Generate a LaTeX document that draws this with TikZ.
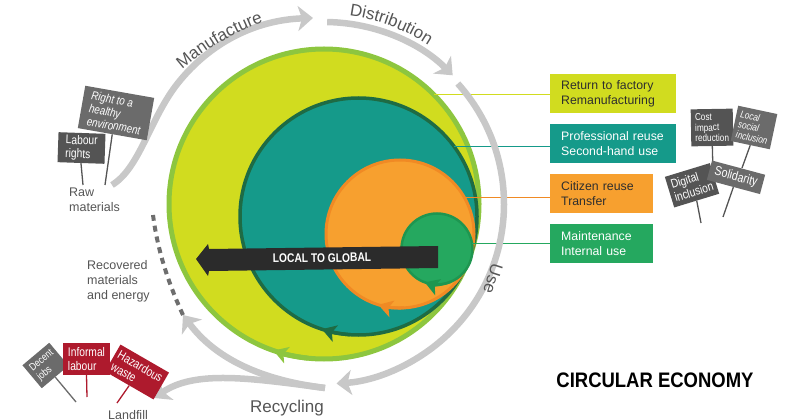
\documentclass[tikz,border=0pt]{standalone}
\usepackage{fontspec}
\setmainfont{Liberation Sans}
\newfontfamily\condfont[FakeStretch=0.82]{Liberation Sans}
\newfontfamily\titlefont[FakeStretch=0.88]{Liberation Sans}
\usetikzlibrary{arrows.meta,decorations.text,positioning}

\definecolor{cyel}{HTML}{D1DC1F}
\definecolor{clgreen}{HTML}{8DC63F}
\definecolor{cteal}{HTML}{159A8A}
\definecolor{cdgreen}{HTML}{1E6B44}
\definecolor{corange}{HTML}{F7A02F}
\definecolor{cdorange}{HTML}{F08A24}
\definecolor{cgreen}{HTML}{25A85F}
\definecolor{cmgreen}{HTML}{1E9650}
\definecolor{flowgray}{HTML}{C8C8C8}
\definecolor{txtgray}{HTML}{555555}
\definecolor{txtdark}{HTML}{2E2E2E}
\definecolor{signdark}{HTML}{545454}
\definecolor{signlight}{HTML}{6B6B6B}
\definecolor{signred}{HTML}{AE1A2D}
\definecolor{bandblack}{HTML}{2B2B2B}
\newcommand\flowfont{\color{txtgray}\fontsize{17}{17}\selectfont}

\begin{document}
\begin{tikzpicture}[x=1pt,y=1pt,
    ring/.style={circle,inner sep=0pt,outer sep=0pt},
    flow/.style={draw=flowgray,line width=6.5pt,-{Stealth[length=15pt,width=25pt,inset=4pt]}},
    flowtext/.style={text=txtgray,font=\fontsize{17}{17}\selectfont},
    note/.style={text=txtgray,font=\fontsize{12.5}{15}\selectfont,align=left,inner sep=0pt,anchor=north west},
    legend/.style={anchor=north west,inner xsep=11pt,inner ysep=0pt,minimum height=39pt,align=left,font=\fontsize{12.3}{15}\selectfont},
    sign/.style={inner sep=0pt,text=white,align=left,font=\condfont\fontsize{12.5}{13.5}\selectfont},
    smallsign/.style={sign,font=\condfont\fontsize{10}{10.5}\selectfont},
    stick/.style={line width=1.3pt},
    ringtip/.style={-{Stealth[length=14pt,width=17pt,inset=3.5pt]}}]
\useasboundingbox (0,0) rectangle (800,418);

\node[ring,minimum size=310pt,fill=cyel,draw=clgreen,line width=5pt] (outer) at (324,214) {};
\node[ring,minimum size=237pt,fill=cteal,draw=cdgreen,line width=3.5pt] (teal) at (358.5,201.5) {};
\node[ring,minimum size=148pt,fill=corange,draw=cdorange,line width=3pt] (orange) at (400,184) {};
\node[ring,minimum size=71pt,fill=cgreen,draw=cmgreen,line width=2.5pt] (green) at (437,169) {};

\draw[ringtip,clgreen,line width=5pt] ([shift={(264:155pt)}]outer.center) arc[start angle=264,end angle=251,radius=155pt];
\draw[ringtip,cdgreen,line width=3.5pt] ([shift={(266:118.5pt)}]teal.center) arc[start angle=266,end angle=252,radius=118.5pt];
\draw[ringtip,cdorange,line width=3pt] ([shift={(273:74pt)}]orange.center) arc[start angle=273,end angle=253,radius=74pt];
\draw[ringtip,cmgreen,line width=2.5pt] ([shift={(292:35.5pt)}]green.center) arc[start angle=292,end angle=250,radius=35.5pt];

\fill[bandblack] (438,172) -- (438,150) -- (209,147) -- (208,142) -- (196,159) -- (208,174) -- (209,169) -- cycle;
\node[font=\condfont\bfseries\fontsize{12.5}{12.5}\selectfont,text=white,rotate=0.7] (l2g) at (322,160) {LOCAL TO GLOBAL};

\node[legend,fill=cyel,text=txtdark,text width=104pt] (rtf) at (550,344) {Return to factory\\Remanufacturing};
\node[legend,fill=cteal,text=white,text width=104pt] (prof) at (550,294) {Professional reuse\\Second-hand use};
\node[legend,fill=corange,text=txtdark,text width=81pt] (cit) at (550,244) {Citizen reuse\\Transfer};
\node[legend,fill=cgreen,text=white,text width=81pt] (maint) at (550,194) {Maintenance\\Internal use};

\draw[cyel,line width=1pt] (outer.45.7) -- (outer.45.7 -| rtf.west);
\draw[cteal,line width=1pt] (teal.36.5) -- (teal.36.5 -| prof.west);
\draw[cdorange,line width=1pt] (orange.30) -- (orange.30 -| cit.west);
\draw[cgreen,line width=1pt] (green.9.7) -- (green.9.7 -| maint.west);

\coordinate (rawtop) at (112,233);
\coordinate (mfend) at (313,400);
\coordinate (mfc) at (353,151);
\coordinate (recyc) at (325,30);
\coordinate (recovtip) at (183,103);
\coordinate (landtip) at (154,20);
\coordinate (dashtop) at (153,203);

\draw[flow] (rawtop) .. controls (140,250) and (150,300) .. (178,335) .. controls (210,375) and (255,398) .. (mfend);
\draw[flow] ([shift={(89:182pt)}]outer.center) arc[start angle=89,end angle=45,radius=182pt];
\draw[flow] ([shift={(42:180pt)}]outer.center) arc[start angle=42,end angle=-86,radius=180pt];
\draw[txtgray!85,line width=4pt,dash pattern=on 6pt off 5pt] (recovtip) .. controls (166,140) and (157,172) .. (dashtop);
\draw[flow] (recyc) .. controls (260,38) and (215,60) .. (recovtip);
\draw[flow] (recyc) .. controls (250,40) and (195,48) .. (landtip);

\path[decorate,decoration={text along path,text align=center,text={|\flowfont|Manufacture}}] ([shift={(133:261pt)}]mfc) arc[start angle=133,end angle=108,radius=261pt];
\path[decorate,decoration={text along path,text align=center,text={|\flowfont|Distribution}}] ([shift={(85:190pt)}]outer.center) arc[start angle=85,end angle=54,radius=190pt];
\node[flowtext,rotate=-108] (use) at (493,139) {Use};
\node[flowtext,anchor=base] (recycling) at (287,6) {Recycling};

\node[note] (raw) at (69,230) {Raw\\materials};
\node[note] (recov) at (87,158) {Recovered\\materials\\and energy};
\node[note] (landfill) at (108,8) {Landfill};

\node[sign,fill=signlight,minimum width=70pt,minimum height=43pt,rotate=-10,font=\condfont\itshape\fontsize{12}{13}\selectfont] (health) at (116,305) {Right to a\\healthy\\environment};
\node[sign,fill=signdark,minimum width=47pt,minimum height=30pt,rotate=-2] (labour) at (81.5,270) {Labour\\rights};
\coordinate (healthfoot) at (105,233);
\coordinate (labourfoot) at (83,233);
\draw[stick,signdark] (health.south) -- (healthfoot);
\draw[stick,signdark] (labour.south) -- (labourfoot);

\node[smallsign,fill=signdark,minimum width=42pt,minimum height=37pt,rotate=1] (cost) at (712,290.5) {Cost\\impact\\reduction};
\node[smallsign,fill=signlight,minimum width=40pt,minimum height=36pt,rotate=-12,font=\condfont\itshape\fontsize{10}{10.5}\selectfont] (local) at (754,290.5) {Local\\social\\inclusion};
\coordinate (costfoot) at (713,246);
\coordinate (localfoot) at (742,250);
\draw[stick,signdark] (cost.south) -- (costfoot);
\draw[stick,signdark] (local.south) -- (localfoot);
\node[sign,fill=signdark,minimum width=47pt,minimum height=32pt,rotate=17] (digital) at (692,232.7) {Digital\\inclusion};
\node[sign,fill=signlight,minimum width=55pt,minimum height=20pt,rotate=-15,font=\condfont\fontsize{13}{13}\selectfont] (solid) at (736,240.7) {Solidarity};
\coordinate (digitalfoot) at (701,195);
\coordinate (solidfoot) at (723,201);
\draw[stick,signdark] (digital.south) -- (digitalfoot);
\draw[stick,signdark] (solid.south) -- (solidfoot);

\node[sign,fill=signlight,minimum width=35pt,minimum height=30pt,rotate=40,font=\condfont\fontsize{10.5}{11.5}\selectfont] (decent) at (45.5,52.5) {Decent\\jobs};
\node[sign,fill=signred,minimum width=47pt,minimum height=32pt] (informal) at (86.5,59) {Informal\\labour};
\node[sign,fill=signred,minimum width=56pt,minimum height=31pt,rotate=-30] (hazard) at (137,46) {Hazardous\\waste};
\coordinate (decentfoot) at (76,16);
\coordinate (informalfoot) at (87,21);
\coordinate (hazardfoot) at (117,15);
\draw[stick,signlight] (decent.south) -- (decentfoot);
\draw[stick,signred] (informal.south) -- (informalfoot);
\draw[stick,signred] (hazard.south) -- (hazardfoot);

\node[font=\titlefont\bfseries\fontsize{21}{21}\selectfont,text=black] (title) at (655,38) {CIRCULAR ECONOMY};
\end{tikzpicture}
\end{document}
